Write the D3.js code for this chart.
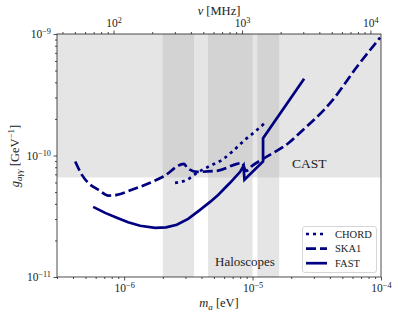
<!DOCTYPE html>
<html>
<head>
<meta charset="utf-8">
<script src="https://cdn.jsdelivr.net/npm/d3@7"></script>
<style>
body { margin: 0; background: #fff; }
</style>
</head>
<body>
<div id="chart"></div>
<script>
// axion mass [eV] and coupling limit [GeV^-1]
let chordMass = [2.49e-6, 3.09e-6, 3.70e-6, 4.67e-6, 5.79e-6, 6.92e-6, 8.74e-6, 1.045e-5, 1.25e-5];
let chordG    = [5.96e-11, 6.31e-11, 7.20e-11, 8.22e-11, 9.22e-11, 1.073e-10, 1.35e-10, 1.57e-10, 1.86e-10];

let skaMass = [4.16e-7, 4.69e-7, 5.27e-7, 6.31e-7, 7.55e-7, 8.77e-7, 1.148e-6, 2.02e-6, 2.93e-6, 3.09e-6, 3.70e-6,
               5.29e-6, 7.57e-6, 8.28e-6, 8.90e-6, 9.91e-6, 1.207e-5, 1.96e-5, 2.34e-5, 4.23e-5, 6.50e-5, 9.83e-5];
let skaG    = [8.93e-11, 6.93e-11, 5.93e-11, 5.22e-11, 4.68e-11, 4.74e-11, 5.22e-11, 6.72e-11, 8.54e-11, 7.92e-11, 7.34e-11,
               7.48e-11, 8.54e-11, 8.71e-11, 7.48e-11, 8.22e-11, 9.39e-11, 1.297e-10, 1.54e-10, 2.88e-10, 5.38e-10, 9.32e-10];

let fastMass = [5.74e-7, 7.11e-7, 8.77e-7, 1.074e-6, 1.332e-6, 1.743e-6, 2.12e-6, 2.57e-6, 3.15e-6, 3.90e-6, 4.67e-6,
                5.39e-6, 6.68e-6, 8.0e-6, 8.5e-6, 8.65e-6, 1.207e-5, 1.207e-5, 2.52e-5];
let fastG    = [3.78e-11, 3.37e-11, 3.07e-11, 2.82e-11, 2.64e-11, 2.54e-11, 2.56e-11, 2.69e-11, 3.01e-11, 3.57e-11, 4.15e-11,
                4.74e-11, 5.96e-11, 7.34e-11, 8.22e-11, 6.31e-11, 8.93e-11, 1.39e-10, 4.28e-10];

let castLimit = 6.6e-11;
let haloBands = [[2.0e-6, 3.5e-6], [4.5e-6, 1.0e-5], [1.09e-5, 1.61e-5]];

let massTicks = [1e-6, 1e-5, 1e-4];
let freqTicks = [1e2, 1e3, 1e4];
let gTicks = [1e-11, 1e-10, 1e-9];
let seriesNames = ["CHORD", "SKA1", "FAST"];

let W = 399, H = 317;
let margin = { top: 34, right: 18, bottom: 40, left: 57 },
    width = W - margin.left - margin.right,
    height = H - margin.top - margin.bottom;

// photon frequency from a -> gamma gamma: nu = m / (2h), in MHz
let toMHz = 1 / (2 * 4.135667e-15) / 1e6;

let x = d3.scaleLog().domain([3e-7, 1e-4]).range([0, width]);
let xTop = d3.scaleLog().domain([3e-7 * toMHz, 1e-4 * toMHz]).range([0, width]);
let y = d3.scaleLog().domain([1e-11, 1e-9]).range([height, 0]);

let serif = "'Liberation Serif', 'DejaVu Serif', serif";

let svg = d3.select("#chart").append("svg")
    .attr("width", W).attr("height", H)
    .attr("font-family", serif);
let g = svg.append("g")
    .attr("transform", "translate(" + margin.left + "," + margin.top + ")");

// excluded regions
g.append("rect")
    .attr("x", 0).attr("y", 0)
    .attr("width", width).attr("height", y(castLimit))
    .attr("fill", "#aaa").attr("fill-opacity", 0.31);

g.selectAll(".halo")
    .data(haloBands)
    .enter().append("rect")
    .attr("x", function(d) { return x(d[0]); })
    .attr("y", 0)
    .attr("width", function(d) { return x(d[1]) - x(d[0]); })
    .attr("height", height)
    .attr("fill", "#aaa").attr("fill-opacity", 0.31);

g.append("text").attr("x", 235).attr("y", 134).attr("font-size", 13.5).attr("fill", "#222").text("CAST");
g.append("text").attr("x", 158).attr("y", 232).attr("font-size", 13).attr("fill", "#222").text("Haloscopes");

// minor ticks
function minors(domain) {
    let out = [];
    let lo = Math.floor(Math.log10(domain[0])), hi = Math.ceil(Math.log10(domain[1]));
    for (let e = lo; e <= hi; e++) {
        for (let k = 2; k <= 9; k++) {
            let v = k * Math.pow(10, e);
            if (v >= domain[0] && v <= domain[1]) out.push(v);
        }
    }
    return out;
}

function sciLabel(sel) {
    sel.each(function(d) {
        let t = d3.select(this);
        let e = Math.round(Math.log10(d));
        t.text(null).attr("fill", "#222");
        t.append("tspan").text("10");
        t.append("tspan").attr("dy", "-0.45em").attr("font-size", "0.72em")
            .text(e < 0 ? "\u2212" + (-e) : String(e));
    });
}

function styleAxis(ax) {
    ax.select(".domain").remove();
    ax.attr("font-family", serif).attr("font-size", 11.5);
    ax.selectAll("line").attr("stroke", "#222").attr("stroke-width", 0.8);
}

let bottomAxis = g.append("g").attr("transform", "translate(0," + height + ")")
    .call(d3.axisBottom(x).tickValues(massTicks).tickSize(3.5).tickPadding(3.5));
styleAxis(bottomAxis);
bottomAxis.selectAll("text").call(sciLabel);
g.append("g").attr("transform", "translate(0," + height + ")")
    .call(d3.axisBottom(x).tickValues(minors(x.domain())).tickSize(2).tickFormat(""))
    .call(styleAxis);

let topAxis = g.append("g")
    .call(d3.axisTop(xTop).tickValues(freqTicks).tickSize(3.5).tickPadding(3.5));
styleAxis(topAxis);
topAxis.selectAll("text").call(sciLabel);
g.append("g")
    .call(d3.axisTop(xTop).tickValues(minors(xTop.domain())).tickSize(2).tickFormat(""))
    .call(styleAxis);

let leftAxis = g.append("g")
    .call(d3.axisLeft(y).tickValues(gTicks).tickSize(3.5).tickPadding(2.5));
styleAxis(leftAxis);
leftAxis.selectAll("text").call(sciLabel);
g.append("g")
    .call(d3.axisLeft(y).tickValues(minors(y.domain())).tickSize(2).tickFormat(""))
    .call(styleAxis);

// curves
let line = d3.line()
    .x(function(d) { return x(d[0]); })
    .y(function(d) { return y(d[1]); });

let series = [
    { name: seriesNames[0], pts: d3.zip(chordMass, chordG), dash: "3,4", curve: d3.curveMonotoneX },
    { name: seriesNames[1], pts: d3.zip(skaMass, skaG), dash: "10,4", curve: d3.curveMonotoneX },
    { name: seriesNames[2], pts: d3.zip(fastMass, fastG), dash: null, curve: d3.curveLinear }
];

g.selectAll(".curve")
    .data(series)
    .enter().append("path")
    .attr("d", function(d) { return line.curve(d.curve)(d.pts); })
    .attr("fill", "none")
    .attr("stroke", "navy")
    .attr("stroke-width", 2.7)
    .attr("stroke-dasharray", function(d) { return d.dash; });

// frame
g.append("rect")
    .attr("width", width).attr("height", height)
    .attr("fill", "none").attr("stroke", "#222").attr("stroke-width", 0.8);

// axis titles
let xl = svg.append("text").attr("x", 219).attr("y", 307).attr("text-anchor", "middle")
    .attr("font-size", 12.5).attr("fill", "#222");
xl.append("tspan").attr("font-style", "italic").text("m");
xl.append("tspan").attr("font-style", "italic").attr("font-size", 9).attr("dy", 2.5).text("a");
xl.append("tspan").attr("dy", -2.5).text(" [eV]");

let tl = svg.append("text").attr("x", 219).attr("y", 15).attr("text-anchor", "middle")
    .attr("font-size", 12.5).attr("fill", "#222");
tl.append("tspan").attr("font-style", "italic").text("\u03bd");
tl.append("tspan").text(" [MHz]");

let yl = svg.append("text").attr("transform", "translate(19,156) rotate(-90)")
    .attr("text-anchor", "middle").attr("font-size", 12.5).attr("fill", "#222");
yl.append("tspan").attr("font-style", "italic").text("g");
yl.append("tspan").attr("font-style", "italic").attr("font-size", 9).attr("dy", 2.5).text("a\u03b3\u03b3");
yl.append("tspan").attr("dy", -2.5).text(" [GeV");
yl.append("tspan").attr("font-size", 9).attr("dy", -5).text("\u22121");
yl.append("tspan").attr("dy", 5).text("]");

// legend
let leg = svg.append("g");
leg.append("rect")
    .attr("x", 302.5).attr("y", 226.5).attr("width", 74).attr("height", 46).attr("rx", 2.5)
    .attr("fill", "#fff").attr("fill-opacity", 0.85).attr("stroke", "#ccc").attr("stroke-width", 0.8);
let items = leg.selectAll(".item")
    .data(series)
    .enter().append("g")
    .attr("transform", function(d, i) { return "translate(0," + (234 + i * 14.6) + ")"; });
items.append("line")
    .attr("x1", 306).attr("x2", 327)
    .attr("stroke", "navy").attr("stroke-width", 2.7)
    .attr("stroke-dasharray", function(d) { return d.dash; });
items.append("text")
    .attr("x", 335).attr("y", 3.8).attr("font-size", 10.5).attr("fill", "#222")
    .text(function(d) { return d.name; });
</script>
</body>
</html>
